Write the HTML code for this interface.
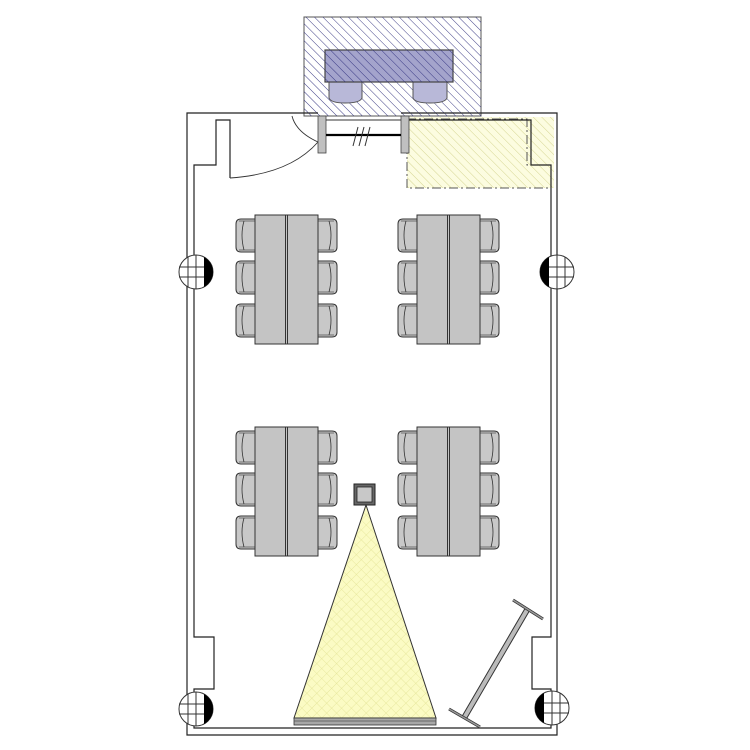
<!DOCTYPE html>
<html><head><meta charset="utf-8"><style>html,body{margin:0;padding:0;background:#fff}svg{display:block}</style></head>
<body>
<svg width="750" height="750" viewBox="0 0 750 750" xmlns="http://www.w3.org/2000/svg">
<defs>
<pattern id="hb" patternUnits="userSpaceOnUse" width="6" height="6" patternTransform="rotate(-45)">
<line x1="0" y1="0" x2="0" y2="6" stroke="#2a2a7a" stroke-width="0.9"/></pattern>
<pattern id="hy" patternUnits="userSpaceOnUse" width="6" height="6" patternTransform="rotate(-45)">
<line x1="0" y1="0" x2="0" y2="6" stroke="#d0d088" stroke-width="0.9"/></pattern>
<pattern id="cross" patternUnits="userSpaceOnUse" width="7" height="7" patternTransform="rotate(45)">
<rect width="7" height="7" fill="#fbfbc4"/>
<line x1="0" y1="0" x2="0" y2="7" stroke="#e4e496" stroke-width="0.8"/>
<line x1="0" y1="0" x2="7" y2="0" stroke="#e4e496" stroke-width="0.8"/></pattern>
<g id="chairL">
<path d="M20,1 L6,1 Q1,1 1,6 L1,29 Q1,34 6,34 L20,34 Z" fill="#c8c8c8" stroke="#333" stroke-width="1"/>
<path d="M9,3 Q5,17 9,32" fill="none" stroke="#333" stroke-width="0.8"/>
<line x1="4" y1="3" x2="20" y2="3" stroke="#333" stroke-width="0.6"/>
<line x1="4" y1="32" x2="20" y2="32" stroke="#333" stroke-width="0.6"/>
</g>
<g id="grp">
<use href="#chairL" x="-20" y="3"/><use href="#chairL" x="-20" y="45"/><use href="#chairL" x="-20" y="88"/>
<use href="#chairL" transform="translate(83,3) scale(-1,1)"/><use href="#chairL" transform="translate(83,45) scale(-1,1)"/><use href="#chairL" transform="translate(83,88) scale(-1,1)"/>
<rect x="0" y="0" width="63" height="129" fill="#c4c4c4" stroke="#333" stroke-width="1"/>
<line x1="30.5" y1="0" x2="30.5" y2="129" stroke="#333" stroke-width="1"/>
<line x1="32.5" y1="0" x2="32.5" y2="129" stroke="#333" stroke-width="1"/>
</g>
<g id="col">
<circle cx="0" cy="0" r="17" fill="#fff" stroke="#333" stroke-width="1"/>
<path d="M8,-15 A17,17 0 0 1 8,15 Z" fill="#000"/>
<line x1="-17" y1="-5" x2="8" y2="-5" stroke="#333" stroke-width="1"/>
<line x1="-17" y1="5" x2="8" y2="5" stroke="#333" stroke-width="1"/>
<line x1="-8" y1="-15" x2="-8" y2="15" stroke="#333" stroke-width="1"/>
<line x1="0" y1="-17" x2="0" y2="17" stroke="#333" stroke-width="1"/>
</g>
</defs>

<!-- blue hatched area -->
<rect x="304" y="17" width="177" height="99" fill="#fff" stroke="#555" stroke-width="1"/>
<rect x="304" y="17" width="177" height="99" fill="url(#hb)"/>
<path d="M329,80 L329,98 Q331,103 345,103 Q360,103 362,98 L362,80" fill="#b8b8d8" stroke="#555" stroke-width="1"/>
<path d="M413,80 L413,98 Q415,103 430,103 Q445,103 447,98 L447,80" fill="#b8b8d8" stroke="#555" stroke-width="1"/>
<rect x="325" y="50" width="128" height="32" fill="#a4a4cc" stroke="#444" stroke-width="1.2"/>
<rect x="325" y="50" width="128" height="32" fill="url(#hb)"/>

<!-- yellow dashed area -->
<path d="M407,117 L554,117 L554,188 L407,188 Z" fill="#fcfce0"/>
<path d="M407,117 L554,117 L554,188 L407,188 Z" fill="url(#hy)"/>
<path d="M407,119 L527,119 L527,165 L551,165 L551,188 L407,188 Z" fill="none" stroke="#555" stroke-width="1" stroke-dasharray="9,3,2,3"/>

<!-- walls -->
<g fill="none" stroke="#222" stroke-width="1.2">
<path d="M318,113 L187,113 L187,735 L557,735 L557,113 L401,113"/>
<path d="M230,178 L230,120 L216,120 L216,165 L194,165 L194,637 L214,637 L214,689 L194,689 L194,728 L551,728 L551,689 L532,689 L532,637 L551,637 L551,165 L531,165 L531,120 L408,120"/>
</g>
<path d="M230,178 Q290,174 318,142" fill="none" stroke="#333" stroke-width="0.9"/>
<path d="M318,142 Q296,132 292,116" fill="none" stroke="#333" stroke-width="0.9"/>
<!-- window -->
<rect x="318" y="116" width="8" height="37" fill="#c0c0c0" stroke="#444" stroke-width="0.8"/>
<rect x="401" y="116" width="8" height="37" fill="#c0c0c0" stroke="#444" stroke-width="0.8"/>
<line x1="326" y1="135" x2="401" y2="135" stroke="#000" stroke-width="2.2"/>
<line x1="326" y1="120" x2="401" y2="120" stroke="#333" stroke-width="1"/>
<g stroke="#333" stroke-width="1"><line x1="353" y1="146" x2="358" y2="127"/><line x1="359" y1="146" x2="364" y2="127"/><line x1="365" y1="146" x2="370" y2="127"/></g>

<!-- columns -->
<use href="#col" transform="translate(196,272)"/>
<use href="#col" transform="translate(557,272) scale(-1,1)"/>
<use href="#col" transform="translate(196,709)"/>
<use href="#col" transform="translate(552,708) scale(-1,1)"/>

<!-- tables -->
<use href="#grp" x="255" y="215"/>
<use href="#grp" x="417" y="215"/>
<use href="#grp" x="255" y="427"/>
<use href="#grp" x="417" y="427"/>

<!-- projector cone -->
<path d="M366,505 L436,718 L294,718 Z" fill="url(#cross)" stroke="#333" stroke-width="1"/>
<rect x="294" y="718" width="142" height="7" fill="#a8a8a8" stroke="#333" stroke-width="0.8"/>
<line x1="294" y1="721" x2="436" y2="721" stroke="#555" stroke-width="0.8"/>
<rect x="354" y="484" width="21" height="21" fill="#666" stroke="#222" stroke-width="1"/>
<rect x="357" y="487" width="15" height="15" fill="#c8c8c8" stroke="#222" stroke-width="0.8"/>

<!-- easel -->
<line x1="527" y1="610" x2="464" y2="718" stroke="#333" stroke-width="6"/>
<line x1="527" y1="610" x2="464" y2="718" stroke="#bbb" stroke-width="4"/>
<line x1="513" y1="600" x2="543" y2="619" stroke="#333" stroke-width="3"/>
<line x1="513" y1="600" x2="543" y2="619" stroke="#999" stroke-width="1.5"/>
<line x1="449" y1="709" x2="480" y2="727" stroke="#333" stroke-width="3"/>
<line x1="449" y1="709" x2="480" y2="727" stroke="#999" stroke-width="1.5"/>
</svg>
</body></html>
